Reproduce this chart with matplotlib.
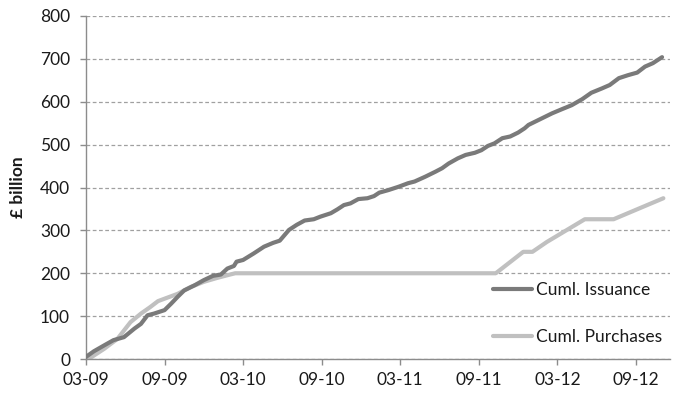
import matplotlib as mpl
import matplotlib.pyplot as plt

mpl.rcParams['font.family'] = ['Lato', 'DejaVu Sans']
mpl.rcParams['font.size'] = 12.5

# months since March 2009
iss_months = [0.0, 0.6, 1.4, 2.1, 2.9, 3.7, 4.2, 4.7, 5.2, 6.0, 6.5, 7.0, 7.5, 8.3,
              9.0, 9.7, 10.3, 10.8, 11.3, 11.5, 12.0, 12.8, 13.6, 14.3, 14.8, 15.5,
              16.1, 16.7, 17.4, 17.9, 18.7, 19.2, 19.7, 20.2, 20.8, 21.5, 22.0, 22.4,
              23.1, 23.9, 24.6, 25.1, 25.9, 26.7, 27.2, 27.7, 28.4, 29.0, 29.7, 30.2,
              30.7, 31.2, 31.8, 32.4, 33.0, 33.5, 33.8, 34.8, 35.6, 36.3, 37.1, 37.9,
              38.6, 39.4, 40.0, 40.7, 41.4, 42.1, 42.7, 43.3, 44.0]
issuance = [5, 18, 32, 44, 51, 71, 82, 102, 106, 114, 129, 145, 160, 172,
            184, 194, 197, 211, 217, 227, 231, 246, 262, 271, 276, 301,
            313, 323, 326, 332, 340, 349, 359, 363, 373, 375, 380, 388,
            394, 402, 410, 414, 425, 437, 445, 456, 468, 476, 481, 487,
            497, 503, 515, 519, 528, 538, 546, 561, 573, 582, 592, 606,
            621, 631, 639, 655, 662, 668, 682, 690, 704]

pur_months = [0.2, 1.4, 2.4, 3.4, 4.2, 4.9, 5.5, 7.0, 8.0, 9.0, 10.0, 11.0, 11.4,
              31.3, 33.4, 34.1, 35.2, 38.1, 40.3, 44.1]
purchases = [0, 24, 47, 86, 106, 121, 135, 152, 168, 180, 189, 197, 200,
             200, 250, 250, 273, 326, 326, 375]

tick_months = [0, 6, 12, 18, 24, 30, 36, 42]
tick_labels = ['03-09', '09-09', '03-10', '09-10', '03-11', '09-11', '03-12', '09-12']

fig = plt.figure(figsize=(6.76, 3.95), dpi=100)
ax = fig.add_axes([0.1272, 0.0911, 0.991 - 0.1272, 0.9595 - 0.0911])

ax.plot(iss_months, issuance, color='#7a7a7a', linewidth=3.0, label='Cuml. Issuance',
        solid_capstyle='round', solid_joinstyle='round', zorder=3)
ax.plot(pur_months, purchases, color='#c0c0c0', linewidth=3.0, label='Cuml. Purchases',
        solid_capstyle='round', solid_joinstyle='round', zorder=2)

ax.set_xlim(0, 44.6)
ax.set_ylim(0, 800)
ax.set_yticks(range(0, 801, 100))
ax.set_xticks(tick_months)
ax.set_xticklabels(tick_labels)

ax.grid(axis='y', linestyle=(0, (3, 2)), color='#a0a0a0', linewidth=0.9, zorder=0)
ax.set_axisbelow(True)

for s in ['top', 'right']:
    ax.spines[s].set_visible(False)
for s in ['left', 'bottom']:
    ax.spines[s].set_color('#8c8c8c')
    ax.spines[s].set_linewidth(1.0)

ax.tick_params(axis='both', colors='#8c8c8c', labelcolor='#1a1a1a', length=4.5,
               width=1.0, labelsize=12.5)
ax.tick_params(axis='y', pad=7)
ax.tick_params(axis='x', pad=5)

ax.set_ylabel('£ billion', fontweight='bold', fontsize=12.5, color='#1a1a1a', labelpad=10)

leg = ax.legend(loc='lower left', bbox_to_anchor=(0.697, 0.04), frameon=False,
                borderpad=0, borderaxespad=0, handlelength=2.25, handletextpad=0.23,
                labelspacing=1.8, fontsize=12.5)
for t in leg.get_texts():
    t.set_color('#1a1a1a')

fig.savefig('out.png', dpi=100)
